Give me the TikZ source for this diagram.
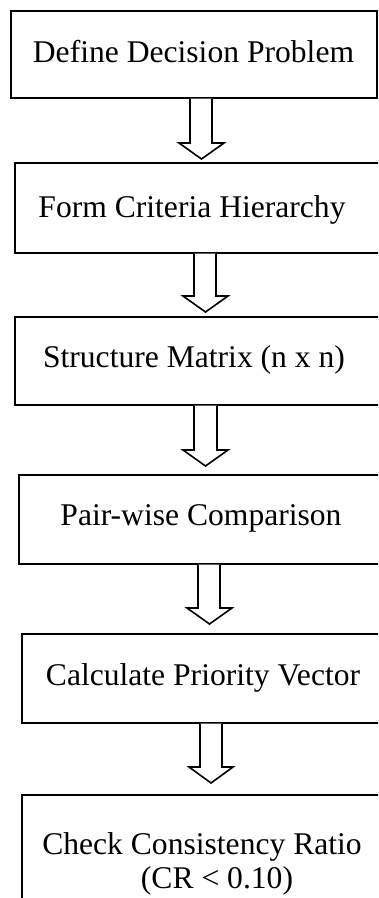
\documentclass[tikz,border=0pt]{standalone}
\usepackage{fontspec}
\setmainfont{Liberation Serif}
\usetikzlibrary{calc}

\tikzset{
  stepbox/.style={draw, line width=1.7pt, rectangle, inner sep=0pt},
  steptext/.style={anchor=base, inner sep=0pt, font=\fontsize{31.6}{36}\selectfont},
  blockarrow/.style={draw, line width=1.6pt, fill=white, line join=miter}
}

% hollow block arrow from the bottom of one box towards the top of the next
% #1 from, #2 to, #3/#4 shaft left/right, #5/#6 head left/right, #7 gap above target
\newcommand\hollowarrow[7]{%
  \path[blockarrow] let \p1=(#1.south), \p2=(#2.north) in
    (#3pt,\y1) -- (#3pt,\y2+#7pt+16pt) -- (#5pt,\y2+#7pt+16pt)
    -- ({(#5pt+#6pt)/2},\y2+#7pt) -- (#6pt,\y2+#7pt+16pt)
    -- (#4pt,\y2+#7pt+16pt) -- (#4pt,\y1);
}

\begin{document}
\begin{tikzpicture}[x=1pt,y=-1pt]
  \useasboundingbox (0,0) rectangle (378,898);
  \clip (0,0) rectangle (378,898);
  \fill[white] (0,0) rectangle (378,898);

  % process boxes
  \node[stepbox, anchor=north west, minimum width=366pt, minimum height=87pt] (b1) at (10,10) {};
  \node[stepbox, anchor=north west, minimum width=371pt, minimum height=90pt] (b2) at (14,162) {};
  \node[stepbox, anchor=north west, minimum width=371pt, minimum height=88pt] (b3) at (14,316) {};
  \node[stepbox, anchor=north west, minimum width=370pt, minimum height=89pt] (b4) at (18,474) {};
  \node[stepbox, anchor=north west, minimum width=369pt, minimum height=89pt] (b5) at (21,633) {};
  \node[stepbox, anchor=north west, minimum width=369pt, minimum height=136pt] (b6) at (21,794) {};

  % box captions
  \node[steptext] (t1) at (193.5,62) {Define Decision Problem};
  \node[steptext] (t2) at (192,217) {Form Criteria Hierarchy};
  \node[steptext] (t3) at (194,367) {Structure Matrix (n x n)};
  \node[steptext] (t4) at (201,525) {Pair-wise Comparison};
  \node[steptext] (t5) at (203,685) {Calculate Priority Vector};
  \node[steptext] (t6a) at (202,854) {Check Consistency Ratio};
  \node[steptext] (t6b) at (217,888) {(CR < 0.10)};

  % flow arrows
  \hollowarrow{b1}{b2}{190}{212}{179}{224}{3}
  \hollowarrow{b2}{b3}{194}{216}{183}{228}{4}
  \hollowarrow{b3}{b4}{194}{217}{183}{228}{8}
  \hollowarrow{b4}{b5}{198}{220}{187}{232}{9}
  \hollowarrow{b5}{b6}{200}{222}{189}{233}{11}
\end{tikzpicture}
\end{document}
